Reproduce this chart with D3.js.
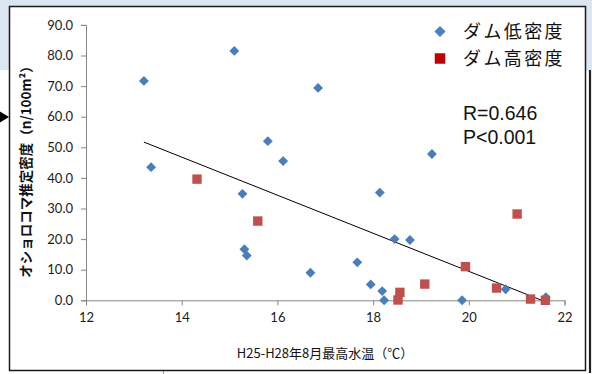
<!DOCTYPE html>
<html>
<head>
<meta charset="utf-8">
<script src="https://cdn.jsdelivr.net/npm/d3@7"></script>
<style>
  html, body { margin: 0; padding: 0; background: #ffffff; }
  svg { display: block; }
</style>
</head>
<body>
<script>
// Maximum August water temperature (°C) vs. estimated Dolly Varden density (n/100m²)
const lowDensityTemp = [13.21, 13.36, 15.10, 16.85, 15.80, 16.12, 15.27, 15.31, 15.36, 16.69,
                        19.23, 18.14, 18.45, 18.77, 17.67, 17.95, 18.19, 18.23, 19.86, 20.77, 21.61];
const lowDensityValue = [71.7, 43.5, 81.5, 69.4, 52.0, 45.5, 34.8, 16.7, 14.6, 9.0,
                         47.8, 35.2, 20.0, 19.7, 12.4, 5.2, 3.0, 0.0, 0.0, 3.6, 1.0];
const highDensityTemp = [14.32, 15.59, 19.93, 19.08, 18.56, 18.52, 20.58, 21.01, 21.29, 21.60];
const highDensityValue = [39.6, 25.9, 11.0, 5.3, 2.6, 0.1, 4.0, 28.2, 0.4, 0.0];

// Linear trend: value = slope * temp + intercept, over the observed temperature range
const trendSlope = -6.22;
const trendIntercept = 133.87;

const xTicks = [12, 14, 16, 18, 20, 22];
const yTicks = [0, 10, 20, 30, 40, 50, 60, 70, 80, 90];
const seriesNames = ["ダム低密度", "ダム高密度"];
const statLines = ["R=0.646", "P<0.001"];
const xTitle = "H25-H28年8月最高水温（℃）";
const yTitle = "オショロコマ推定密度（n/100m²）";

const W = 592, H = 374;
const svg = d3.select("body").append("svg").attr("width", W).attr("height", H);

// surrounding page background
svg.append("rect").attr("x", 0).attr("y", 0).attr("width", W).attr("height", 70).attr("fill", "#dce6f2");
svg.append("rect").attr("x", 0).attr("y", 70).attr("width", W).attr("height", H - 70).attr("fill", "#ffffff");
svg.append("line").attr("x1", 590).attr("x2", 590).attr("y1", 70).attr("y2", 373)
  .attr("stroke", "#222").attr("stroke-width", 2.2);
svg.append("line").attr("x1", 163.5).attr("x2", 163.5).attr("y1", 371).attr("y2", 374)
  .attr("stroke", "#999").attr("stroke-width", 1);

// chart frame
svg.append("rect").attr("x", 9.5).attr("y", 6.5).attr("width", 576).attr("height", 364)
  .attr("fill", "#ffffff").attr("stroke", "#1a1a1a").attr("stroke-width", 1.5);

// pointer arrow at the left edge
svg.append("path").attr("d", "M0,111.5 L9,117 L0,122.5 Z").attr("fill", "#000");

const x = d3.scaleLinear().domain([12, 22]).range([86, 564.5]);
const y = d3.scaleLinear().domain([0, 90]).range([300.3, 24.9]);

const axisColor = "#868686";
const tickFont = "Lato, 'Open Sans', sans-serif";

const xAxis = svg.append("g").attr("transform", `translate(0,${y(0)})`)
  .call(d3.axisBottom(x).tickValues(xTicks).tickFormat(d3.format("d")).tickSizeOuter(0).tickSize(5).tickPadding(7));
const yAxis = svg.append("g").attr("transform", `translate(${x(12)},0)`)
  .call(d3.axisLeft(y).tickValues(yTicks).tickFormat(d3.format(".1f")).tickSizeOuter(0).tickSize(5).tickPadding(8));

[xAxis, yAxis].forEach(g => {
  g.select(".domain").attr("stroke", axisColor).attr("stroke-width", 1);
  g.selectAll(".tick line").attr("stroke", axisColor);
  g.selectAll(".tick text").attr("fill", "#1a1a1a").style("font-family", tickFont).style("font-size", "13px");
});

// trend line, clipped at the axis minimum
const tMin = d3.min(lowDensityTemp.concat(highDensityTemp));
const tMax = Math.min(d3.max(lowDensityTemp.concat(highDensityTemp)), -trendIntercept / trendSlope);
svg.append("line")
  .attr("x1", x(tMin)).attr("y1", y(trendSlope * tMin + trendIntercept))
  .attr("x2", x(tMax)).attr("y2", y(trendSlope * tMax + trendIntercept))
  .attr("stroke", "#000").attr("stroke-width", 1);

const blue = "#4a7ebb", red = "#c0504d";
const diamond = d3.symbol().type(d3.symbolDiamond2).size(62);
const square = d3.symbol().type(d3.symbolSquare).size(88);

svg.append("g").selectAll("path")
  .data(lowDensityTemp.map((t, i) => [t, lowDensityValue[i]]))
  .join("path")
  .attr("d", diamond)
  .attr("transform", d => `translate(${x(d[0])},${y(d[1])})`)
  .attr("fill", blue);

svg.append("g").selectAll("path")
  .data(highDensityTemp.map((t, i) => [t, highDensityValue[i]]))
  .join("path")
  .attr("d", square)
  .attr("transform", d => `translate(${x(d[0])},${y(d[1])})`)
  .attr("fill", red);

// legend
const legend = svg.append("g");
const legendMarks = [
  { sym: d3.symbol().type(d3.symbolDiamond2).size(80), color: "#4f81bd", cy: 31.5 },
  { sym: d3.symbol().type(d3.symbolSquare).size(110), color: "#c00000", cy: 58.5 }
];
legendMarks.forEach((m, i) => {
  legend.append("path").attr("d", m.sym).attr("transform", `translate(440,${m.cy})`).attr("fill", m.color);
  legend.append("text").attr("x", 463).attr("y", m.cy).attr("dy", "0.36em")
    .style("font-family", "'Noto Sans CJK JP', sans-serif").style("font-size", "18px")
    .style("letter-spacing", "2.4px").attr("fill", "#111").text(seriesNames[i]);
});

// correlation statistics
statLines.forEach((s, i) => {
  svg.append("text").attr("x", 463).attr("y", 119.5 + i * 24)
    .style("font-family", "'Liberation Sans', Arial, sans-serif").style("font-size", "19.5px")
    .attr("fill", "#111").text(s);
});

// axis titles
svg.append("text").attr("x", 325).attr("y", 358).attr("text-anchor", "middle")
  .style("font-family", "'Noto Sans CJK JP', sans-serif").style("font-size", "13px")
  .attr("fill", "#111").text(xTitle);

svg.append("text").attr("transform", "translate(31,168.5) rotate(-90)").attr("text-anchor", "middle")
  .style("font-family", "'Noto Sans CJK JP', sans-serif").style("font-size", "13.5px").style("font-weight", "bold")
  .attr("fill", "#111").text(yTitle);
</script>
</body>
</html>
